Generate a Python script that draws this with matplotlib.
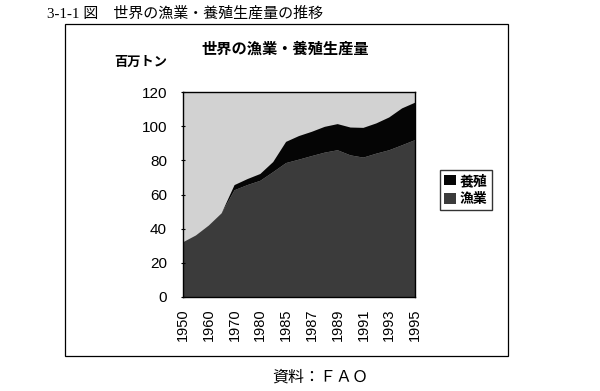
import matplotlib
matplotlib.use('Agg')
import matplotlib.pyplot as plt
from matplotlib.patches import Rectangle, Patch
import numpy as np

# categories (every other one is labelled on the axis)
years = ['1950', '1955', '1960', '1965', '1970', '1975', '1980', '1984',
         '1985', '1986', '1987', '1988', '1989', '1990', '1991', '1992',
         '1993', '1994', '1995']
# million tonnes
total = [32, 36, 41.8, 49, 65.5, 69, 72, 79, 90.8, 94.2, 96.7, 99.6,
         101.2, 99.2, 99, 101.6, 105.1, 110.4, 113.7]
capture = [32, 36, 41.8, 49, 62.5, 65.5, 68, 73.1, 78.4, 80.4, 82.5, 84.5,
           85.9, 82.9, 81.6, 83.9, 85.9, 88.8, 91.8]
aquaculture = [t - c for t, c in zip(total, capture)]

plt.rcParams['font.family'] = ['Liberation Sans', 'Noto Sans CJK JP']

W, H = 600, 391
fig = plt.figure(figsize=(6, 3.91), dpi=100)

# outer frame round the chart
fig.patches.append(Rectangle((65 / W, 1 - 356 / H), 443 / W, 332 / H,
                             transform=fig.transFigure, fill=False,
                             edgecolor='black', linewidth=0.9))

ax = fig.add_axes([183 / W, 1 - 297 / H, 232 / W, 205 / H])
x = np.arange(len(years))
ax.set_facecolor('#d2d2d2')
ax.stackplot(x, capture, aquaculture, colors=['#3b3b3b', '#050505'],
             linewidth=0)
ax.set_xlim(0, len(years) - 1)
ax.set_ylim(0, 120)
ax.set_yticks(range(0, 121, 20))
ax.set_xticks(x[::2])
ax.set_xticklabels(years[::2], rotation=90)
ax.tick_params(axis='x', length=0, pad=8, labelsize=10.5)
ax.tick_params(axis='y', length=3, direction='inout', pad=10, labelsize=11)
for s in ax.spines.values():
    s.set_linewidth(1.0)

fig.text(285 / W, 1 - 49 / H, '世界の漁業・養殖生産量', ha='center',
         va='center', fontsize=11, fontweight='bold')
fig.text(141 / W, 1 - 63 / H, '百万トン', ha='center', va='center',
         fontsize=9.5, fontweight='bold')

handles = [Patch(facecolor='#050505', edgecolor='none', label='養殖'),
           Patch(facecolor='#3b3b3b', edgecolor='none', label='漁業')]
fig.legend(handles=handles, loc='center', bbox_to_anchor=(466 / W, 1 - 190 / H),
           frameon=True, fancybox=False, edgecolor='black',
           prop={'weight': 'bold', 'size': 10}, handlelength=0.8,
           handleheight=0.8, handletextpad=0.3, borderpad=0.3,
           labelspacing=0.3)

fig.text(47 / W, 1 - 14 / H, '3-1-1 図　世界の漁業・養殖生産量の推移',
         ha='left', va='center', fontsize=10.8,
         family=['Liberation Serif', 'Noto Sans CJK JP'])
fig.text(320 / W, 1 - 378 / H, '資料：ＦＡＯ', ha='center', va='center',
         fontsize=11.5, family=['Liberation Serif', 'Noto Sans CJK JP'])

fig.savefig('out.png', dpi=100, facecolor='white')
